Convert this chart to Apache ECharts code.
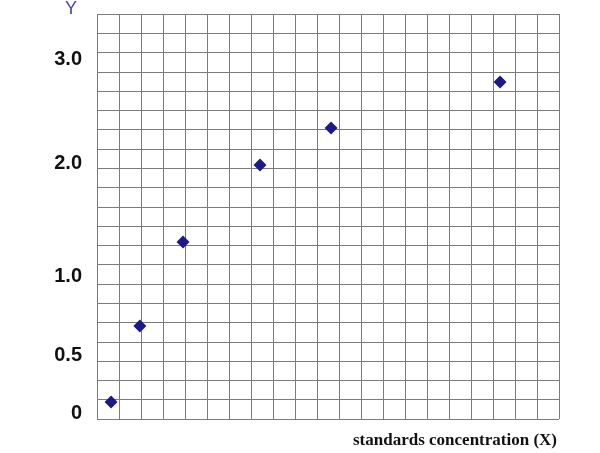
<!DOCTYPE html>
<html>
<head>
<meta charset="utf-8">
<script src="https://cdn.jsdelivr.net/npm/echarts@6/dist/echarts.min.js"></script>
<style>html,body{margin:0;padding:0;background:#fff;}#c{width:600px;height:453px;}</style>
</head>
<body>
<div id="c"></div>
<script>
// Data in grid-cell units (21 x 21 grid of squares)
const xValues = [0.64, 1.95, 3.91, 7.41, 10.64, 18.32];
const yValues = [0.88, 4.82, 9.18, 13.17, 15.09, 17.47];
// Y tick labels as drawn on the reference (hand-placed, not linear)
const yTickLabels = ['0', '0.5', '1.0', '2.0', '3.0'];
const yTickAt = [0.31, 3.27, 7.41, 13.25, 18.65];
const xName = 'standards concentration (X)';
const yName = 'Y';

const labelMap = {};
yTickAt.forEach((v, i) => { labelMap[v] = yTickLabels[i]; });

const chart = echarts.init(document.getElementById('c'), null, {renderer: 'canvas'});
chart.setOption({
  animation: false,
  backgroundColor: '#ffffff',
  grid: {left: 97, top: 14, width: 462, height: 405, containLabel: false, outerBoundsMode: 'none'},
  xAxis: {
    type: 'value', min: 0, max: 21, interval: 1,
    axisLine: {show: false}, axisTick: {show: false}, axisLabel: {show: false},
    splitLine: {show: true, lineStyle: {color: '#7c7c7c', width: 1}},
    name: xName, nameLocation: 'end', nameGap: -2,
    nameTextStyle: {fontFamily: 'Liberation Serif', fontWeight: 'bold', fontSize: 17, color: '#111',
      align: 'right', verticalAlign: 'top', padding: [13, 0, 0, 0]}
  },
  yAxis: {
    type: 'value', min: 0, max: 21, interval: 1,
    axisLine: {show: false}, axisTick: {show: false},
    axisLabel: {
      show: true, customValues: yTickAt, margin: 15,
      formatter: v => labelMap[v] !== undefined ? labelMap[v] : '',
      fontFamily: 'Liberation Sans', fontWeight: 'bold', fontSize: 20, color: '#111'
    },
    splitLine: {show: true, lineStyle: {color: '#7c7c7c', width: 1}},
    name: yName, nameLocation: 'end', nameGap: -4,
    nameTextStyle: {fontFamily: 'Liberation Sans', fontSize: 18, color: '#4848a8',
      align: 'right', verticalAlign: 'bottom', padding: [0, 20, 0, 0]}
  },
  series: [{
    type: 'scatter',
    symbol: 'diamond',
    symbolSize: [13, 13],
    itemStyle: {color: '#1c1a8a', opacity: 1},
    data: xValues.map((x, i) => [x, yValues[i]])
  }]
});
</script>
</body>
</html>
